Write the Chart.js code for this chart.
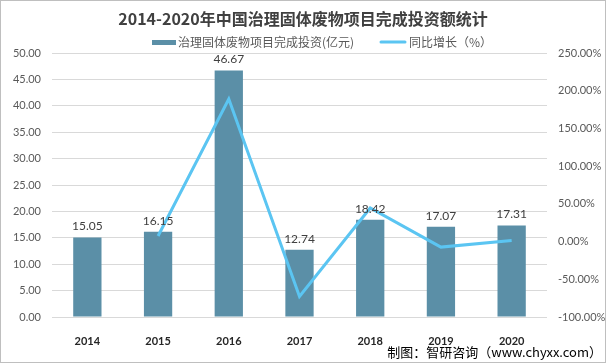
<!DOCTYPE html>
<html>
<head>
<meta charset="utf-8">
<script src="https://cdn.jsdelivr.net/npm/chart.js@4/dist/chart.umd.min.js"></script>
<style>
  html, body { margin: 0; padding: 0; background: #fff; }
  canvas { display: block; }
</style>
</head>
<body>
<canvas id="chart" width="606" height="364"></canvas>
<script>
const years = ['2014', '2015', '2016', '2017', '2018', '2019', '2020'];
const investment = [15.05, 16.15, 46.67, 12.74, 18.42, 17.07, 17.31];
const growth = [null, 7.31, 188.98, -72.70, 44.58, -7.33, 1.41];
const leftRange = [0, 50, 5];
const rightRange = [-100, 250, 50];

const titleText = '2014-2020年中国治理固体废物项目完成投资额统计';
const barLabel = '治理固体废物项目完成投资(亿元)';
const lineLabel = '同比增长（%）';
const sourceText = '制图：智研咨询（www.chyxx.com）';

const barColor = '#5b8fa7';
const lineColor = '#5bc5f2';
const cjk = '"Noto Sans CJK SC", "Microsoft YaHei", sans-serif';

const decorations = {
    id: 'decorations',
    beforeDraw(chart) {
        const ctx = chart.ctx;
        ctx.save();
        ctx.fillStyle = '#fff';
        ctx.fillRect(0, 0, chart.width, chart.height);
        ctx.strokeStyle = '#bfbfbf';
        ctx.lineWidth = 1;
        ctx.strokeRect(0.5, 0.5, chart.width - 1, 362);

        ctx.textBaseline = 'middle';
        ctx.textAlign = 'center';
        ctx.fillStyle = '#404040';
        ctx.font = 'bold 16px ' + cjk;
        ctx.fillText(titleText, 303, 19);

        // legend
        ctx.font = '12px ' + cjk;
        ctx.fillStyle = barColor;
        ctx.fillRect(152, 40, 24, 5);
        ctx.textAlign = 'left';
        ctx.fillStyle = '#595959';
        ctx.fillText(barLabel, 178, 42);
        ctx.strokeStyle = lineColor;
        ctx.lineWidth = 3;
        ctx.lineCap = 'round';
        ctx.beginPath();
        ctx.moveTo(381, 42);
        ctx.lineTo(405, 42);
        ctx.stroke();
        ctx.fillText(lineLabel, 409, 42);

        ctx.font = '13px ' + cjk;
        ctx.fillStyle = '#000';
        ctx.textAlign = 'right';
        ctx.fillText(sourceText, 602, 352);
        ctx.restore();
    },
    afterDatasetsDraw(chart) {
        const ctx = chart.ctx;
        const meta = chart.getDatasetMeta(0);
        ctx.save();
        ctx.font = '12px Lato, sans-serif';
        ctx.fillStyle = '#404040';
        ctx.textAlign = 'center';
        ctx.textBaseline = 'bottom';
        meta.data.forEach((bar, i) => {
            ctx.fillText(investment[i].toFixed(2), bar.x, bar.y - 5);
        });
        ctx.restore();
    }
};

new Chart(document.getElementById('chart'), {
    data: {
        labels: years,
        datasets: [{
            type: 'bar',
            label: barLabel,
            data: investment,
            backgroundColor: barColor,
            borderWidth: 0,
            barPercentage: 0.4,
            categoryPercentage: 1,
            yAxisID: 'y',
            order: 2
        }, {
            type: 'line',
            label: lineLabel,
            data: growth,
            borderColor: lineColor,
            borderWidth: 3,
            pointRadius: 0,
            tension: 0,
            fill: false,
            yAxisID: 'y1',
            order: 1
        }]
    },
    options: {
        responsive: false,
        animation: false,
        devicePixelRatio: 1,
        layout: { padding: { top: 53, left: 0, right: 0, bottom: 0 } },
        plugins: {
            legend: { display: false },
            title: { display: false },
            tooltip: { enabled: false }
        },
        scales: {
            x: {
                offset: true,
                grid: { display: false },
                border: { display: false },
                ticks: {
                    padding: 10,
                    color: '#262626',
                    font: { family: 'Lato', size: 11, weight: 'bold' }
                },
                afterFit(scale) { scale.height = 47; }
            },
            y: {
                position: 'left',
                min: leftRange[0],
                max: leftRange[1],
                grid: { color: '#d9d9d9', drawTicks: false },
                border: { display: false },
                ticks: {
                    stepSize: leftRange[2],
                    padding: 11,
                    color: '#595959',
                    font: { family: 'Lato', size: 11 },
                    callback: v => v.toFixed(2)
                },
                afterFit(scale) { scale.width = 52; }
            },
            y1: {
                position: 'right',
                min: rightRange[0],
                max: rightRange[1],
                grid: { drawOnChartArea: false, drawTicks: false },
                border: { display: false },
                ticks: {
                    stepSize: rightRange[2],
                    padding: 11,
                    color: '#595959',
                    font: { family: 'Lato', size: 11 },
                    callback: v => v.toFixed(2) + '%'
                },
                afterFit(scale) { scale.width = 59; }
            }
        }
    },
    plugins: [decorations]
});
</script>
</body>
</html>
